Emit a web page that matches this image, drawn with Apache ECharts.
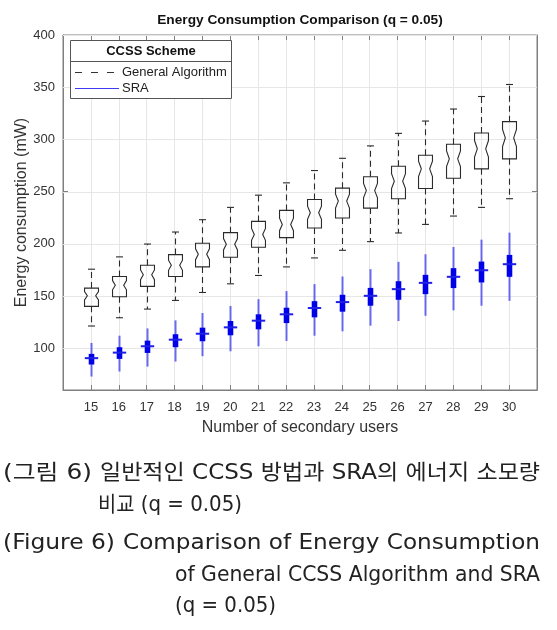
<!DOCTYPE html>
<html>
<head>
<meta charset="utf-8">
<script src="https://cdn.jsdelivr.net/npm/echarts@6/dist/echarts.min.js"></script>
<style>
html,body{margin:0;padding:0;background:#fff;}
#chart{width:557px;height:630px;}
</style>
</head>
<body>
<div id="chart"></div>
<script>
const users = [15,16,17,18,19,20,21,22,23,24,25,26,27,28,29,30];

const genMin = [121.3,129.2,137.5,145.8,153.4,161.7,169.7,177.9,186.5,193.8,202.1,210.4,218.6,226.6,234.9,243.2];
const genQ1  = [140.1,149.3,159.2,168.7,177.9,187.1,196.7,205.9,215.1,224.7,234.2,243.2,253.0,262.8,271.8,281.4];
const genMed = [150.2,160.4,170.3,179.5,190.0,199.6,209.0,218.6,229.8,240.9,251.0,260.0,271.8,281.4,291.0,301.4];
const genQ3  = [157.6,168.7,179.5,189.7,200.5,210.7,221.5,232.0,242.5,253.3,264.2,274.3,284.8,295.3,306.2,317.0];
const genMax = [175.7,187.5,199.8,211.3,223.1,234.9,246.6,258.4,270.2,281.9,293.8,305.8,317.6,329.1,341.1,352.6];

const sraMin = [72.9,77.7,82.4,87.2,92.4,97.1,101.9,107.0,112.0,116.2,121.6,126.1,131.1,136.3,140.7,145.4];
const sraQ1  = [84.4,89.8,95.5,101.0,106.7,112.4,118.1,124.1,129.6,135.0,140.7,146.4,151.8,157.6,163.0,168.4];
const sraMed = [90.5,95.8,101.9,108.2,113.9,120.0,126.4,132.5,138.5,144.2,150.2,156.6,162.6,168.4,174.7,180.5];
const sraQ3  = [94.6,101.0,107.3,113.4,119.7,126.1,132.5,138.8,145.1,151.2,157.8,164.2,170.3,176.7,183.0,189.4];
const sraMax = [105.1,112.0,119.0,126.7,133.7,140.4,147.0,154.7,161.4,168.7,175.7,182.7,190.0,197.0,204.0,210.7];

const yTicks = [100,150,200,250,300,350,400];

const genData = users.map((u,i)=>[u,genMin[i],genQ1[i],genMed[i],genQ3[i],genMax[i]]);
const sraData = users.map((u,i)=>[u,sraMin[i],sraQ1[i],sraMed[i],sraQ3[i],sraMax[i]]);

const chart = echarts.init(document.getElementById('chart'), null, {renderer:'canvas'});
const FONT = '"Liberation Sans", Arial, Helvetica, sans-serif';
const CAP = '21px "DejaVu Sans", "Noto Sans CJK KR", sans-serif';
const AX = '#7f7f7f';
const LBL = '#333333';

function renderGeneral(params, api){
  const x = api.value(0);
  const vMin=api.value(1), q1=api.value(2), med=api.value(3), q3=api.value(4), vMax=api.value(5);
  const unit = api.size([1,0])[0];
  const w = unit*0.25, wi = w*0.6, cw = unit*0.125;
  const iqr = q3-q1;
  const nTopV = med + 0.23*iqr, nBotV = med - 0.23*iqr;
  const cx = Math.round(api.coord([x,med])[0]) + 0.5;
  const y = v => api.coord([x,v])[1];
  const yq3=y(q3), yq1=y(q1), ym=y(med), ynt=y(nTopV), ynb=y(nBotV), ymax=y(vMax), ymin=y(vMin);
  const stroke = '#2b2b2b';
  return {type:'group', children:[
    {type:'polygon', shape:{points:[[cx-w,yq3],[cx+w,yq3],[cx+w,ynt],[cx+wi,ym],[cx+w,ynb],[cx+w,yq1],[cx-w,yq1],[cx-w,ynb],[cx-wi,ym],[cx-w,ynt]]},
     style:{fill:'none', stroke:stroke, lineWidth:1.1}},
    {type:'line', shape:{x1:cx,y1:yq3,x2:cx,y2:ymax}, style:{stroke:stroke, lineWidth:1.1, lineDash:[6,4]}},
    {type:'line', shape:{x1:cx,y1:yq1,x2:cx,y2:ymin}, style:{stroke:stroke, lineWidth:1.1, lineDash:[6,4]}},
    {type:'line', shape:{x1:cx-cw,y1:ymax,x2:cx+cw,y2:ymax}, style:{stroke:stroke, lineWidth:1.1}},
    {type:'line', shape:{x1:cx-cw,y1:ymin,x2:cx+cw,y2:ymin}, style:{stroke:stroke, lineWidth:1.1}}
  ]};
}

function renderSRA(params, api){
  const x = api.value(0);
  const vMin=api.value(1), q1=api.value(2), med=api.value(3), q3=api.value(4), vMax=api.value(5);
  const unit = api.size([1,0])[0];
  const bw = unit*0.1, mw = unit*0.24;
  const cx = Math.round(api.coord([x,med])[0]) + 0.5;
  const y = v => api.coord([x,v])[1];
  const yq3=y(q3), yq1=y(q1), ym=y(med), ymax=y(vMax), ymin=y(vMin);
  return {type:'group', children:[
    {type:'line', shape:{x1:cx,y1:ymax,x2:cx,y2:ymin}, style:{stroke:'#4646ee', lineWidth:2, opacity:0.8}},
    {type:'rect', shape:{x:cx-bw,y:yq3,width:2*bw,height:yq1-yq3}, style:{fill:'#0000e8'}},
    {type:'line', shape:{x1:cx-mw,y1:ym,x2:cx+mw,y2:ym}, style:{stroke:'#1f1fe8', lineWidth:2}}
  ]};
}

function renderGridY(params, api){
  const v = api.value(0);
  const p1 = api.coord([14, v]), p2 = api.coord([31, v]);
  const yy = Math.round(p1[1]) + 0.5;
  return {type:'line', shape:{x1:p1[0],y1:yy,x2:p2[0],y2:yy}, style:{stroke:'#e6e6e6', lineWidth:1}};
}

const measureCtx = document.createElement('canvas').getContext('2d');
function capText(text, x, y, sx){
  return {type:'text', x:x, y:y, scaleX:sx||1, originX:0, style:{text:text, x:0, y:0, align:'left', verticalAlign:'middle', font:CAP, fill:'#222'}};
}
// a caption line stretched horizontally to span x0..x1
function fitLine(text, x0, x1, y){
  measureCtx.font = CAP;
  const w = measureCtx.measureText(text).width;
  return capText(text, x0, y, (x1 - x0)/w);
}

const option = {
  backgroundColor:'#ffffff',
  animation:false,
  grid:{left:63, right:20, top:35, bottom:240, show:true, borderColor:AX, borderWidth:1, backgroundColor:'transparent'},
  xAxis:[{
    type:'value', min:14, max:31, interval:1,
    name:'Number of secondary users', nameLocation:'middle', nameGap:30, nameMoveOverlap:false,
    nameTextStyle:{fontFamily:FONT, fontSize:16, color:LBL},
    axisLine:{show:true, lineStyle:{color:AX}},
    axisTick:{show:true, inside:true, length:5, lineStyle:{color:AX}},
    axisLabel:{fontFamily:FONT, fontSize:13, color:LBL, margin:11,
      formatter: v => (v>=15 && v<=30) ? String(v) : ''},
    splitLine:{show:true, lineStyle:{color:'#e6e6e6'}}
  },{
    type:'value', position:'top', min:14, max:31, interval:1,
    axisLine:{show:true, lineStyle:{color:AX}},
    axisTick:{show:true, inside:true, length:5, lineStyle:{color:AX}},
    axisLabel:{show:false}, splitLine:{show:false}
  }],
  yAxis:[{
    type:'value', min:60, max:400,
    name:'Energy consumption (mW)', nameLocation:'middle', nameGap:33, nameMoveOverlap:false,
    nameTextStyle:{fontFamily:FONT, fontSize:16, color:LBL},
    axisLine:{show:true, lineStyle:{color:AX}},
    axisTick:{show:true, inside:true, length:5, lineStyle:{color:AX}, customValues:yTicks},
    axisLabel:{fontFamily:FONT, fontSize:13, color:LBL, margin:8, customValues:yTicks},
    splitLine:{show:false}
  },{
    type:'value', position:'right', min:60, max:400,
    axisLine:{show:true, lineStyle:{color:AX}},
    axisTick:{show:true, inside:true, length:5, lineStyle:{color:AX}, customValues:yTicks},
    axisLabel:{show:false, customValues:yTicks},
    splitLine:{show:false}
  }],
  series:[
    {type:'custom', name:'grid', renderItem:renderGridY, data:yTicks.map(v=>[v]), encode:{y:0}, z:1, silent:true, clip:true},
    {type:'custom', name:'General Algorithm', renderItem:renderGeneral, data:genData, encode:{x:0, y:[1,2,3,4,5]}, z:3, clip:true},
    {type:'custom', name:'SRA', renderItem:renderSRA, data:sraData, encode:{x:0, y:[1,2,3,4,5]}, z:4, clip:true}
  ],
  graphic:[
    {type:'text', x:300, y:20, style:{text:'Energy Consumption Comparison (q = 0.05)', x:0, y:0, align:'center', verticalAlign:'middle', font:'bold 13.7px '+FONT, fill:'#111'}},
    {type:'rect', shape:{x:70.5, y:40.5, width:161, height:58}, style:{fill:'#fff', stroke:'#555', lineWidth:1}, z:10},
    {type:'line', shape:{x1:70.5, y1:61.5, x2:231.5, y2:61.5}, style:{stroke:'#555', lineWidth:1}, z:10},
    {type:'text', x:151, y:51.5, style:{text:'CCSS Scheme', x:0, y:0, align:'center', verticalAlign:'middle', font:'bold 13px '+FONT, fill:'#111'}, z:11},
    {type:'line', shape:{x1:75, y1:72.5, x2:119, y2:72.5}, style:{stroke:'#333', lineWidth:1, lineDash:[7,9]}, z:11},
    {type:'text', x:122, y:72, style:{text:'General Algorithm', x:0, y:0, align:'left', verticalAlign:'middle', font:'13px '+FONT, fill:'#222'}, z:11},
    {type:'line', shape:{x1:75, y1:88.5, x2:119, y2:88.5}, style:{stroke:'#3c3cf0', lineWidth:1}, z:11},
    {type:'text', x:122, y:88.5, style:{text:'SRA', x:0, y:0, align:'left', verticalAlign:'middle', font:'13px '+FONT, fill:'#222'}, z:11},
    fitLine('(그림 6)', 3, 92, 474),
    fitLine('일반적인 CCSS 방법과 SRA의 에너지 소모량', 100, 540, 474),
    fitLine('비교 (q = 0.05)', 98, 242, 506),
    fitLine('(Figure 6)', 3, 115, 544),
    fitLine('Comparison of Energy Consumption', 123, 540, 544),
    fitLine('of General CCSS Algorithm and SRA', 175, 540, 576),
    fitLine('(q = 0.05)', 175, 276, 607)
  ]
};
chart.setOption(option);
</script>
</body>
</html>
